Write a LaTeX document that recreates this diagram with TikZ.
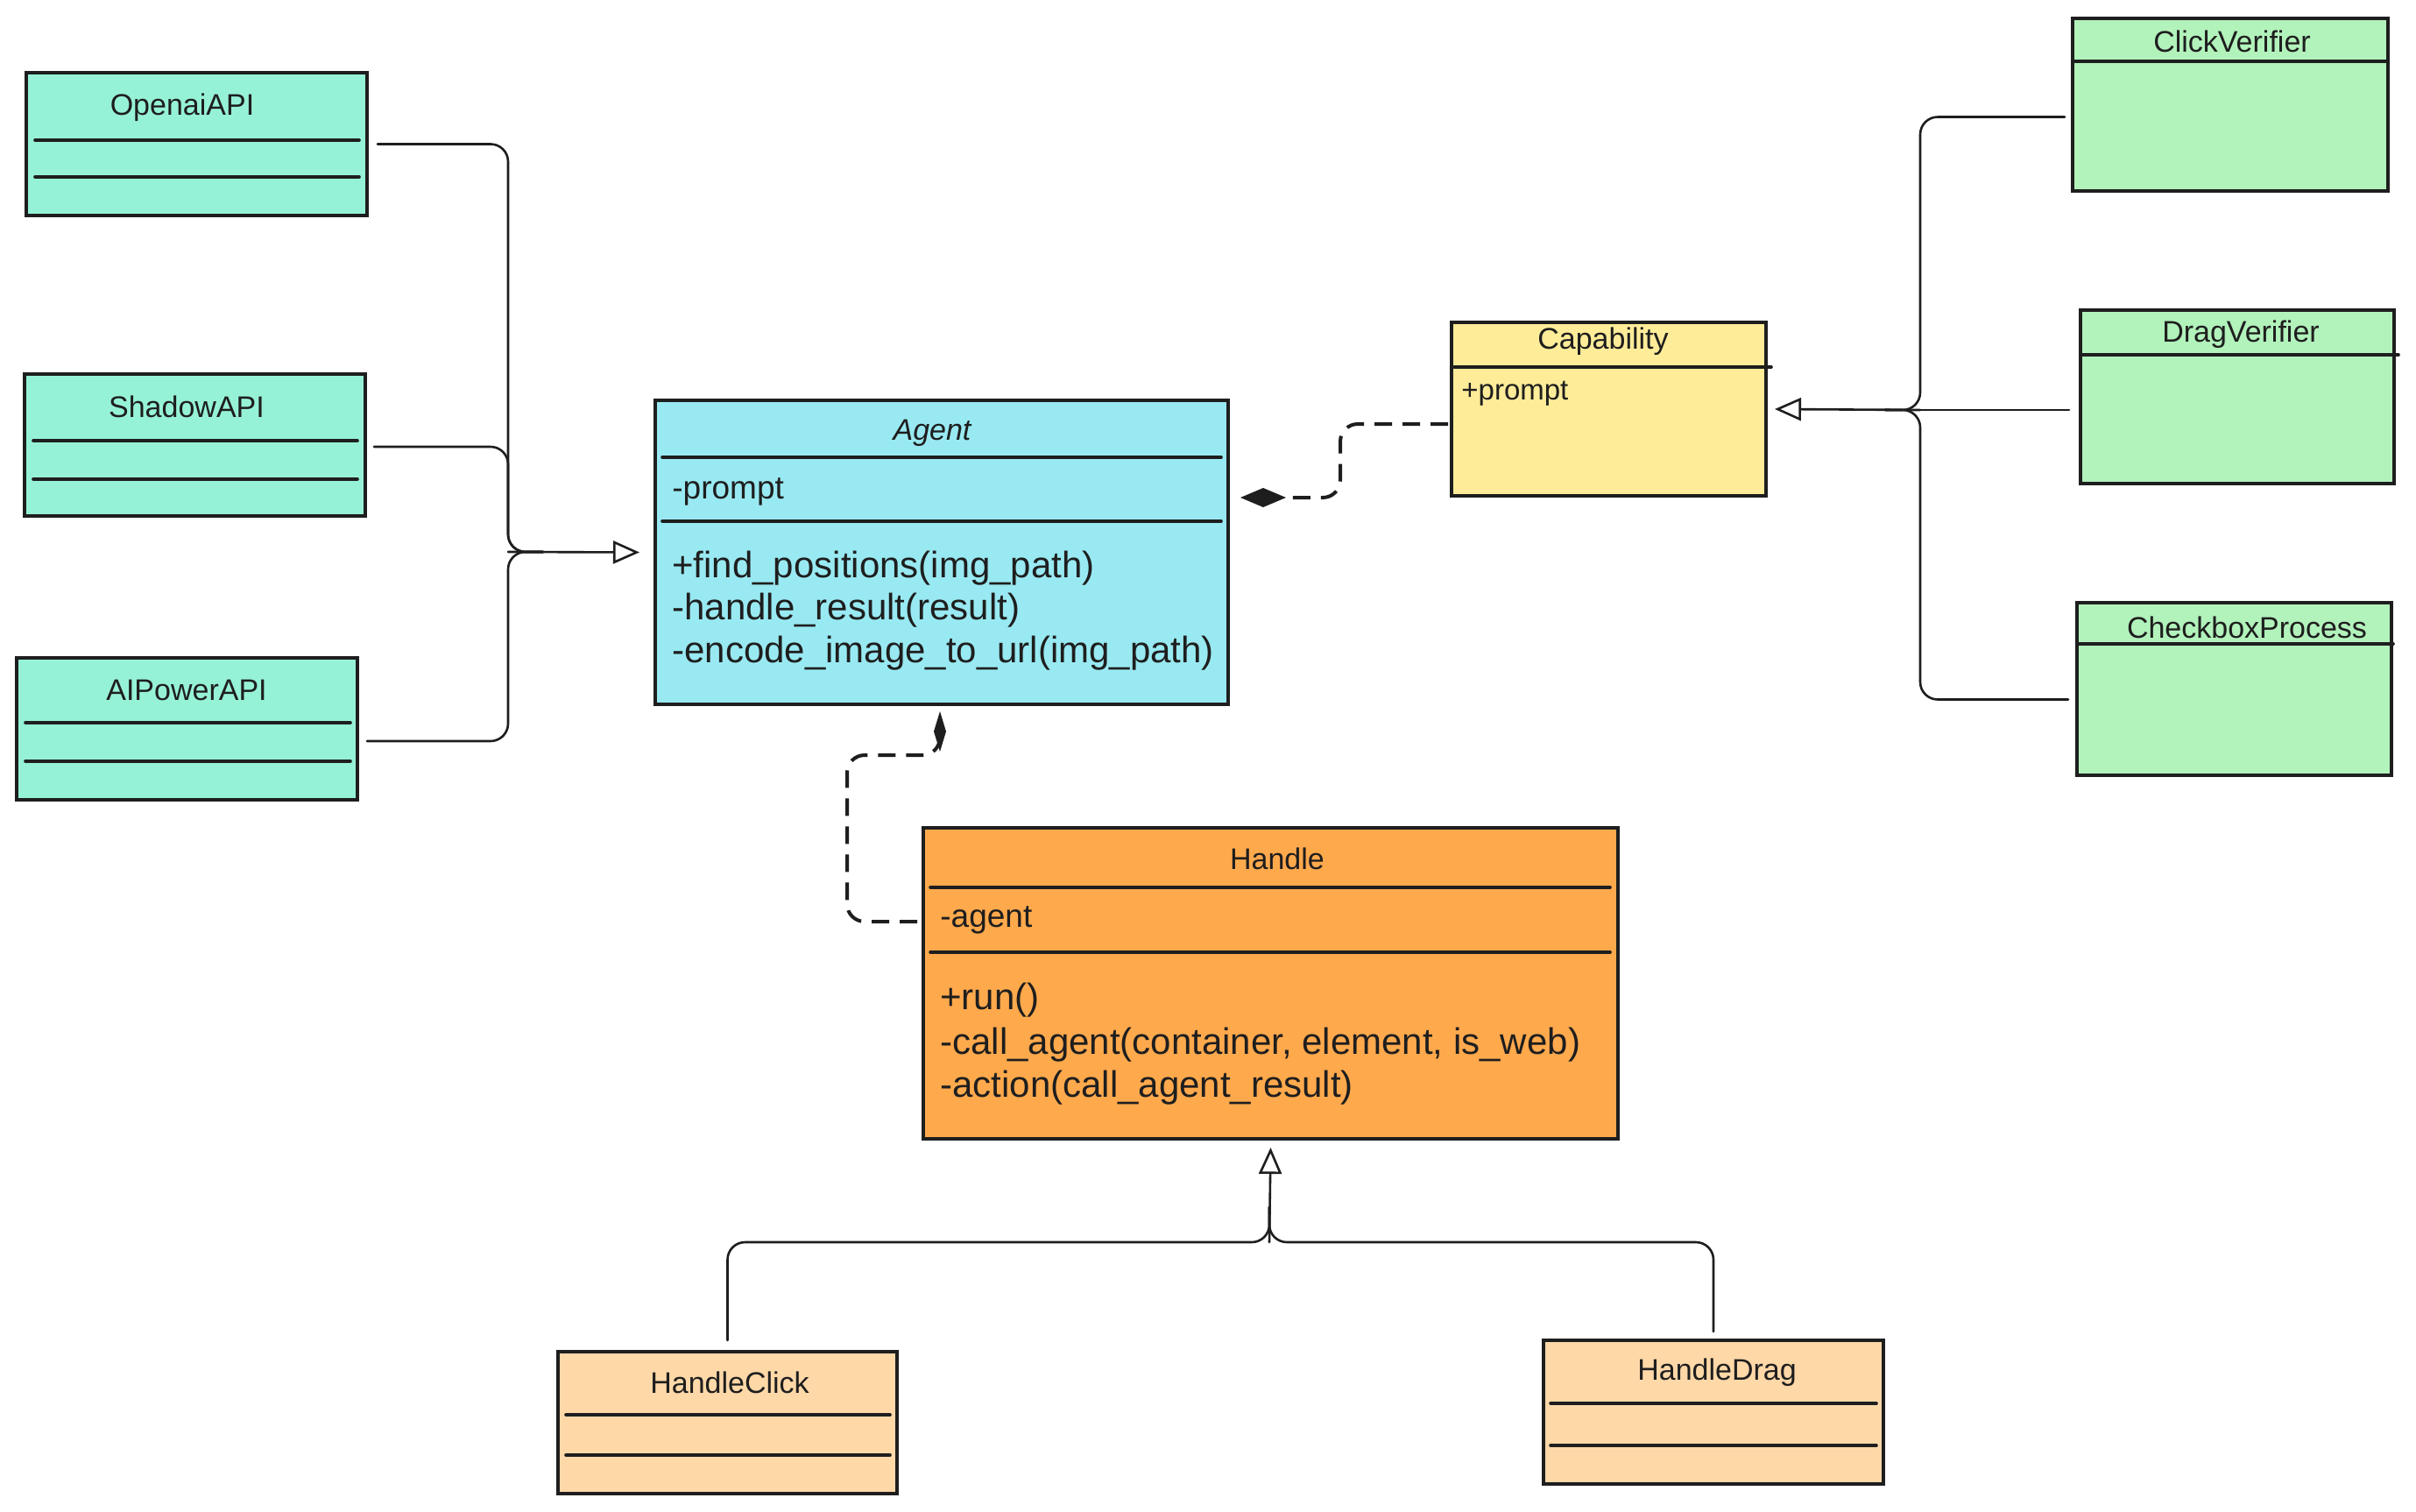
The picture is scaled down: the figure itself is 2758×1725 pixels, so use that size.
\documentclass[tikz,border=0pt]{standalone}
\usepackage{fontspec}
\setmainfont{Liberation Sans}
\usetikzlibrary{arrows.meta,calc}
\definecolor{ink}{HTML}{1E1E1E}
\definecolor{cteal}{HTML}{96F2D7}
\definecolor{ccyan}{HTML}{99E9F2}
\definecolor{cyellow}{HTML}{FFEC99}
\definecolor{cgreen}{HTML}{B2F2BB}
\definecolor{corange}{HTML}{FFA94D}
\definecolor{clight}{HTML}{FFD8A8}
\newcommand{\umlclass}[6]{\node[umlbox, fill=#6, minimum width={(#4-#2)*0.5pt}, minimum height={(#5-#3)*0.5pt}] (#1) at ({(#2+#4)/2},{(#3+#5)/2}) {};}
\newcommand{\umldiv}[3]{\draw[divline] (#1,#3) -- (#2,#3);}
\tikzset{
  umlbox/.style={draw=ink, line width=1.8pt, rectangle, inner sep=0pt, outer sep=0pt},
  divline/.style={draw=ink, line width=1.8pt, line cap=round},
  ctitle/.style={text=ink, font=\fontsize{17}{20}\selectfont, inner sep=0pt},
  member/.style={text=ink, font=\fontsize{21}{25}\selectfont, inner sep=0pt, anchor=west},
  attr/.style={member, font=\fontsize{18.5}{22}\selectfont},
  conn/.style={draw=ink, line width=1.3pt, rounded corners=10pt, line cap=round},
  dconn/.style={draw=ink, line width=2pt, rounded corners=10pt, dash pattern=on 10pt off 6pt},
  inh/.style={conn, -{Triangle[open, length=15pt, width=13pt, line width=1.3pt]}, rounded corners=0pt},
}
\begin{document}
\begin{tikzpicture}[x=0.5pt,y=-0.5pt]
\useasboundingbox[fill=white] (0,0) rectangle (2758,1725);

% ---- API classes (left)
\umlclass{openai}{30}{83}{419}{246}{cteal}
\umldiv{40}{410}{160}\umldiv{40}{410}{202}
\node[ctitle] (openaiT) at (208,123) {OpenaiAPI};
\umlclass{shadow}{28}{427}{417}{589}{cteal}
\umldiv{38}{408}{503}\umldiv{38}{408}{547}
\node[ctitle] (shadowT) at (213,464) {ShadowAPI};
\umlclass{aipower}{19}{751}{408}{913}{cteal}
\umldiv{29}{400}{825}\umldiv{29}{400}{869}
\node[ctitle] (aipowerT) at (213,788) {AIPowerAPI};

% ---- Agent
\umlclass{agent}{748}{457}{1402}{804}{ccyan}
\umldiv{756}{1394}{522}\umldiv{756}{1394}{595}
\node[ctitle] (agentT) at (1064,494) {\itshape Agent};
\node[attr] (agentA) at (767,561) {-prompt};
\node[member] (agentM1) at (767,649) {+find\_positions(img\_path)};
\node[member] (agentM2) at (767,697) {-handle\_result(result)};
\node[member] (agentM3) at (767,746) {-encode\_image\_to\_url(img\_path)};

% ---- Capability
\umlclass{cap}{1657}{368}{2016}{566}{cyellow}
\umldiv{1660}{2022}{419}
\node[ctitle] (capT) at (1830,390) {Capability};
\node[member, font=\fontsize{16.5}{20}\selectfont] (capA) at (1668,449) {+prompt};

% ---- Verifiers (right)
\umlclass{click}{2366}{21}{2726}{218}{cgreen}
\umldiv{2368}{2726}{70}
\node[ctitle] (clickT) at (2548,47) {ClickVerifier};
\umlclass{drag}{2375}{354}{2733}{552}{cgreen}
\umldiv{2377}{2738}{405}
\node[ctitle] (dragT) at (2558,382) {DragVerifier};
\umlclass{check}{2371}{688}{2730}{885}{cgreen}
\umldiv{2373}{2732}{735}
\node[ctitle] (checkT) at (2565,716) {CheckboxProcess};

% ---- Handle
\umlclass{handle}{1054}{945}{1847}{1300}{corange}
\umldiv{1062}{1838}{1013}\umldiv{1062}{1838}{1087}
\node[ctitle] (handleT) at (1458,980) {Handle};
\node[attr] (handleA) at (1073,1050) {-agent};
\node[member] (handleM1) at (1073,1142) {+run()};
\node[member] (handleM2) at (1073,1193) {-call\_agent(container, element, is\_web)};
\node[member] (handleM3) at (1073,1242) {-action(call\_agent\_result)};

% ---- HandleClick / HandleDrag
\umlclass{hclick}{637}{1543}{1024}{1705}{clight}
\umldiv{646}{1016}{1615}\umldiv{646}{1016}{1661}
\node[ctitle] (hclickT) at (833,1578) {HandleClick};
\umlclass{hdrag}{1762}{1530}{2150}{1694}{clight}
\umldiv{1770}{2142}{1602}\umldiv{1770}{2142}{1650}
\node[ctitle] (hdragT) at (1960,1567) {HandleDrag};

% ---- inheritance: APIs -> Agent
\coordinate (lj) at (580,630);
\draw[conn] ([xshift=6pt]openai.east) -| (lj) -- ++(40,0);
\draw[conn] ([xshift=5pt,yshift=-1pt]shadow.east) -| (lj) -- ++(40,0);
\draw[conn] ([xshift=5.5pt,yshift=-7pt]aipower.east) -| (lj) -- ++(40,0);
\draw[inh] (lj) -- ([xshift=-9pt]agent.west);

% ---- inheritance: verifiers -> Capability
\coordinate (rj) at (2192,468);
\draw[conn] ([xshift=-4.5pt,yshift=-7pt]click.west) -| (rj) -- ++(-40,0);
\draw[conn] ([xshift=-6.5pt,yshift=-7.5pt]drag.west) -- (rj);
\draw[conn] ([xshift=-5pt,yshift=-6pt]check.west) -| (rj) -- ++(-40,0);
\draw[inh] (rj) -- ([xshift=5pt]cap.east);

% ---- inheritance: HandleClick/HandleDrag -> Handle
\coordinate (bj) at (1449,1418);
\draw[conn] ([yshift=6.5pt]hclick.north) |- (bj) -- ++(0,-40);
\draw[conn] ([yshift=5pt]hdrag.north) |- (bj) -- ++(0,-40);
\draw[inh] (bj) -- ([yshift=-5pt]handle.south);

% ---- composition: Capability -> Agent
\coordinate (cb) at (1530,568);
\draw[dconn, -{Diamond[length=26pt, width=11pt, line width=0pt, sep=0pt]}] ([xshift=-2pt,yshift=-8.5pt]cap.west) -| (cb) -- ($(agent.east |- cb)+(14,0)$);

% ---- composition: Handle -> Agent
\coordinate (hb1) at (967,862);
\coordinate (hb2) at (1073,862);
\draw[dconn, -{Diamond[length=23pt, width=7pt]}] ([xshift=-3.5pt,yshift=35.25pt]handle.west) -| (hb1) -- (hb2) -- ($(agent.south -| hb2)+(0,8)$);
\end{tikzpicture}
\end{document}
